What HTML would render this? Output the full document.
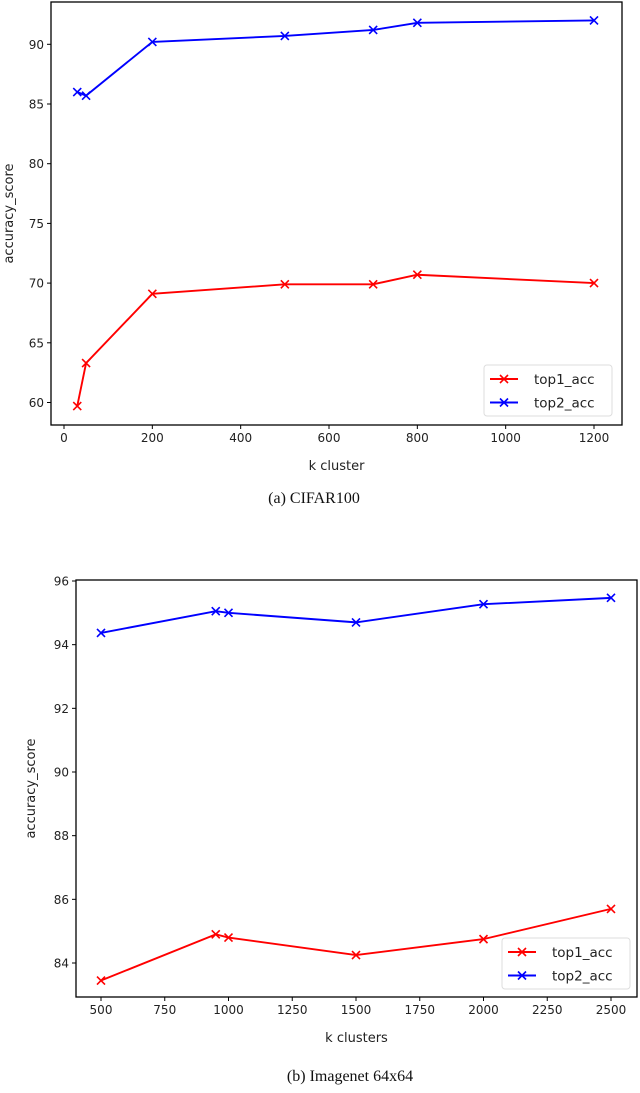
<!DOCTYPE html>
<html><head><meta charset="utf-8"><style>
body{margin:0;background:#fff;width:640px;height:1088px;overflow:hidden}
svg text{font-family:"DejaVu Sans","Liberation Sans",sans-serif;fill:#222}
.cap{font-family:"Liberation Serif",serif;font-size:16px;fill:#111}
</style></head><body>
<svg id="s" width="640" height="1088"></svg>
<script>
const kA=[30,50,200,500,700,800,1200];
const top1A=[59.7,63.3,69.1,69.9,69.9,70.7,70.0];
const top2A=[86.0,85.7,90.2,90.7,91.2,91.8,92.0];
const xTicksA=[0,200,400,600,800,1000,1200];
const yTicksA=[60,65,70,75,80,85,90];
const kB=[500,950,1000,1500,2000,2500];
const top1B=[83.45,84.9,84.8,84.25,84.75,85.7];
const top2B=[94.37,95.05,95.0,94.7,95.27,95.47];
const xTicksB=[500,750,1000,1250,1500,1750,2000,2250,2500];
const yTicksB=[84,86,88,90,92,94,96];
const NS="http://www.w3.org/2000/svg",S=document.getElementById('s');
function mk(t,a,p){const e=document.createElementNS(NS,t);for(const k in a)e.setAttribute(k,a[k]);(p||S).appendChild(e);return e;}
function chart(c){
 const g=mk('g',{});
 
 
 const X=v=>c.x0+(v-c.xv0)*(c.x1-c.x0)/(c.xv1-c.xv0);
 const Y=v=>c.y0+(v-c.yv0)*(c.y1-c.y0)/(c.yv1-c.yv0);
 c.xt.forEach(t=>{const x=X(t);mk('line',{x1:x,x2:x,y1:c.B,y2:c.B+4,stroke:'#000'},g);
  const tx=mk('text',{x:x,y:c.B+17,'text-anchor':'middle','font-size':12},g);tx.textContent=t;
  });
 c.yt.forEach(t=>{const y=Y(t);mk('line',{x1:c.L-4,x2:c.L,y1:y,y2:y,stroke:'#000'},g);
  const tx=mk('text',{x:c.L-7,y:y+4.5,'text-anchor':'end','font-size':12},g);tx.textContent=t;
  });
 const series=[[c.s1,'#ff0000','top1_acc'],[c.s2,'#0000ff','top2_acc']];
 series.forEach(([d,col,n])=>{
  const pts=c.k.map((k,i)=>X(k)+','+Y(d[i])).join(' ');
  const pl=mk('polyline',{points:pts,fill:'none',stroke:col,'stroke-width':1.9},g);
  
  c.k.forEach((k,i)=>{const x=X(k),y=Y(d[i]);
   const m=mk('path',{d:`M${x-4},${y-4}L${x+4},${y+4}M${x-4},${y+4}L${x+4},${y-4}`,stroke:col,'stroke-width':1.6},g);
   });
 });
 const r=mk('rect',{x:c.L,y:c.T,width:c.R-c.L,height:c.B-c.T,fill:'none',stroke:'#000','stroke-width':1.3},g);
 
 const lg=mk('g',{},g);
 mk('rect',{x:c.lx,y:c.ly,width:128,height:51,rx:3,fill:'#fff',stroke:'#ddd'},lg);
 series.forEach(([d,col,n],i)=>{const y=c.ly+14+i*23.5,x=c.lx+6;
  mk('line',{x1:x,x2:x+28,y1:y,y2:y,stroke:col,'stroke-width':1.9},lg);
  mk('path',{d:`M${x+10},${y-4}L${x+18},${y+4}M${x+10},${y+4}L${x+18},${y-4}`,stroke:col,'stroke-width':1.6},lg);
  const t=mk('text',{x:x+44,y:y+5,'font-size':13.5},lg);t.textContent=n;
  });
 const xl=mk('text',{x:(c.L+c.R)/2,y:c.B+45,'text-anchor':'middle','font-size':13},g);xl.textContent=c.xlab;
 
 const yl=mk('text',{x:0,y:0,'text-anchor':'middle','font-size':13,transform:`translate(${c.ylx},${(c.T+c.B)/2}) rotate(-90)`},g);yl.textContent='accuracy_score';
 
 const cp=mk('text',{x:c.capx,y:c.capy,'text-anchor':'middle',class:'cap'},g);cp.textContent=c.cap;
 
}
chart({name:'cifar100-chart',L:51,R:622,T:2,B:425,x0:64,x1:594,xv0:0,xv1:1200,y0:402.5,y1:44.3,yv0:60,yv1:90,
 xt:xTicksA,yt:yTicksA,k:kA,s1:top1A,s2:top2A,lx:484,ly:365,xlab:'k cluster',ylx:13,cap:'(a) CIFAR100',capx:314,capy:503});
chart({name:'imagenet-chart',L:76,R:637,T:580,B:997,x0:101,x1:611,xv0:500,xv1:2500,y0:963,y1:581,yv0:84,yv1:96,
 xt:xTicksB,yt:yTicksB,k:kB,s1:top1B,s2:top2B,lx:502,ly:938,xlab:'k clusters',ylx:35,cap:'(b) Imagenet 64x64',capx:350,capy:1081});
</script>
</body></html>
